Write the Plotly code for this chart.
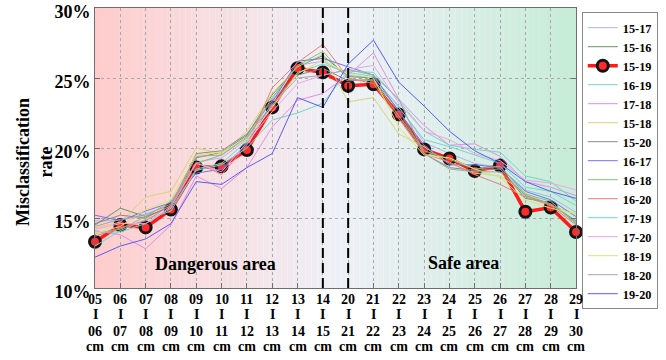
import plotly.graph_objects as go

# ---------------- data ----------------
range_lo = ["05", "06", "07", "08", "09", "10", "11", "12", "13", "14",
            "20", "21", "22", "23", "24", "25", "26", "27", "28", "29"]
range_hi = ["06", "07", "08", "09", "10", "11", "12", "13", "14", "15",
            "21", "22", "23", "24", "25", "26", "27", "28", "29", "30"]

s_15_17 = [14.8, 14.8, 15.3, 15.9, 19.0, 19.3, 20.6, 23.5, 25.9, 26.2, 25.2, 25.0, 23.0, 20.4, 19.6, 18.9, 18.6, 17.0, 16.5, 15.4]
s_15_16 = [14.5, 15.7, 15.1, 15.8, 19.3, 19.7, 20.9, 23.8, 25.8, 26.6, 25.1, 25.0, 22.2, 19.7, 19.2, 18.6, 18.5, 16.4, 16.1, 14.6]
s_15_19 = [13.3, 14.5, 14.33, 15.6, 18.6, 18.7, 19.85, 22.9, 25.7, 25.4, 24.45, 24.55, 22.4, 19.9, 19.25, 18.35, 18.75, 15.45, 15.75, 14.0]
s_16_19 = [13.0, 14.1, 14.9, 15.5, 18.5, 18.9, 20.5, 23.0, 25.4, 26.0, 25.4, 25.1, 22.9, 20.6, 20.1, 19.5, 18.9, 17.2, 16.9, 15.9]
s_17_18 = [14.1, 13.8, 12.8, 14.5, 18.0, 17.1, 18.6, 21.5, 23.4, 23.9, 25.2, 26.8, 23.5, 21.6, 20.2, 20.3, 19.4, 17.6, 17.2, 16.6]
s_15_18 = [14.3, 14.7, 16.5, 16.9, 20.0, 19.6, 21.2, 23.9, 25.8, 26.7, 23.3, 23.6, 21.0, 20.1, 18.9, 18.2, 18.0, 16.8, 15.9, 15.3]
s_15_20 = [14.6, 15.2, 15.0, 15.9, 19.6, 19.8, 21.0, 23.4, 25.2, 25.7, 24.8, 24.9, 22.7, 19.6, 18.6, 18.4, 18.5, 16.6, 16.0, 14.8]
s_16_17 = [15.2, 14.8, 15.5, 16.1, 18.2, 18.5, 20.3, 23.2, 26.2, 26.4, 25.8, 25.2, 22.6, 20.2, 18.8, 18.8, 18.6, 16.9, 16.3, 15.1]
s_16_18 = [13.9, 14.2, 15.1, 16.2, 18.9, 19.5, 20.7, 23.6, 25.9, 26.9, 24.9, 24.8, 22.3, 19.8, 19.2, 18.5, 18.7, 16.7, 16.2, 14.6]
s_16_20 = [13.7, 14.3, 14.8, 15.9, 19.0, 18.1, 20.2, 24.3, 26.1, 27.4, 25.0, 24.6, 22.1, 19.6, 19.0, 18.1, 17.4, 16.5, 15.9, 14.5]
s_17_19 = [14.0, 14.0, 14.6, 15.7, 18.4, 18.8, 20.0, 22.0, 22.5, 23.2, 25.5, 25.4, 23.4, 21.2, 20.2, 19.9, 19.7, 18.0, 17.6, 16.2]
s_17_20 = [14.2, 14.6, 14.6, 15.8, 18.9, 18.3, 20.4, 22.6, 24.6, 25.2, 25.6, 25.9, 23.2, 21.2, 20.6, 19.6, 19.1, 17.7, 17.5, 17.0]
s_18_19 = [13.9, 14.4, 15.6, 16.3, 19.5, 19.7, 20.6, 22.9, 25.3, 26.3, 25.3, 25.0, 21.5, 19.5, 19.3, 18.5, 17.9, 16.3, 15.7, 15.3]
s_18_20 = [14.4, 14.9, 15.2, 16.0, 19.4, 19.5, 20.8, 23.1, 25.0, 25.2, 25.6, 25.2, 23.5, 19.6, 18.5, 18.3, 18.3, 16.6, 16.0, 14.7]
s_19_20 = [12.2, 13.0, 13.5, 14.6, 17.6, 17.4, 18.6, 19.6, 23.6, 22.9, 26.0, 27.7, 24.7, 23.0, 21.2, 19.8, 18.9, 17.6, 16.9, 16.4]

series_names = ["15-17", "15-16", "15-19", "16-19", "17-18", "15-18", "15-20", "16-17",
                "16-18", "16-20", "17-19", "17-20", "18-19", "18-20", "19-20"]
series_values = [s_15_17, s_15_16, s_15_19, s_16_19, s_17_18, s_15_18, s_15_20, s_16_17,
                 s_16_18, s_16_20, s_17_19, s_17_20, s_18_19, s_18_20, s_19_20]
series_colors = ["#a9b4f0", "#5f9a63", "#ff1a1a", "#77d3d0", "#e58be8", "#d8d470", "#8a8a8a", "#6f74f2",
                 "#7cc47c", "#f07a7a", "#6fd8c4", "#e9a6e6", "#e6e26a", "#a6a6a6", "#5a5cf5"]
y_ticks = [10, 15, 20, 25, 30]
y_tick_text = ["10%", "15%", "20%", "25%", "30%"]
highlight = "15-19"

FONT = "Liberation Serif"
x_idx = list(range(len(range_lo)))

fig = go.Figure()

# ---------------- background gradient ----------------
def lerp(c1, c2, t):
    return tuple(round(a + (b - a) * t) for a, b in zip(c1, c2))

c_left, c_mid, c_right = (255, 204, 204), (238, 240, 247), (199, 236, 215)
n_strips = 80
x0_all, x1_all = 0, len(range_lo) - 1
for i in range(n_strips):
    t = (i + 0.5) / n_strips
    c = lerp(c_left, c_mid, t / 0.5) if t < 0.5 else lerp(c_mid, c_right, (t - 0.5) / 0.5)
    xa = x0_all + (x1_all - x0_all) * i / n_strips
    xb = x0_all + (x1_all - x0_all) * (i + 1) / n_strips
    fig.add_shape(type="rect", xref="x", yref="paper", x0=xa, x1=xb, y0=0, y1=1,
                  fillcolor="rgb(%d,%d,%d)" % c, line=dict(width=0), layer="below")

# ---------------- series ----------------
for name, vals, col in zip(series_names, series_values, series_colors):
    if name == highlight:
        fig.add_trace(go.Scatter(
            x=x_idx, y=vals, name=name, mode="lines+markers",
            line=dict(color=col, width=3.5),
            marker=dict(size=11, color="#ff2a2a", line=dict(color="#141414", width=3)),
            cliponaxis=False))
    else:
        fig.add_trace(go.Scatter(
            x=x_idx, y=vals, name=name, mode="lines",
            line=dict(color=col, width=1)))

# dashed separators between the two ranges
for k in (range_lo.index("14"), range_lo.index("20")):
    fig.add_shape(type="line", xref="x", yref="paper", x0=k, x1=k, y0=0, y1=1,
                  line=dict(color="black", width=2, dash="10px,5px"))

# ---------------- x tick labels (stacked, tight lines) ----------------
line_y = [-0.0393, -0.0964, -0.1536, -0.2107]
for xi, lo, hi in zip(x_idx, range_lo, range_hi):
    for txt, yy in zip([lo, "I", hi, "cm"], line_y):
        fig.add_annotation(x=xi, y=yy, xref="x", yref="paper", text="<b>%s</b>" % txt,
                           showarrow=False, xanchor="center", yanchor="middle", borderpad=0,
                           font=dict(family=FONT, size=14, color="black"))

# y-axis title (two lines, rotated)
fig.add_annotation(x=-0.127, y=0.45, xref="paper", yref="paper",
                   text="<b>Misclassification<br>rate</b>", textangle=-90,
                   showarrow=False, xanchor="center", yanchor="middle",
                   font=dict(family=FONT, size=18, color="black"))

# area labels
fig.add_annotation(x=4.76, y=11.7, xref="x", yref="y", text="<b>Dangerous area</b>",
                   showarrow=False, font=dict(family=FONT, size=18, color="black"))
fig.add_annotation(x=14.55, y=11.8, xref="x", yref="y", text="<b>Safe area</b>",
                   showarrow=False, font=dict(family=FONT, size=18, color="black"))

fig.update_layout(
    width=666, height=360,
    margin=dict(l=95, r=84, t=8, b=72),
    paper_bgcolor="white", plot_bgcolor="rgba(0,0,0,0)",
    font=dict(family=FONT, color="black"),
    showlegend=True,
    legend=dict(x=1.012, y=0.985, xanchor="left", yanchor="top",
                maxheight=330,
                bgcolor="white", bordercolor="#888888", borderwidth=1,
                font=dict(family=FONT, size=12.3, color="black", weight="bold"),
                itemwidth=30, tracegroupgap=0),
    xaxis=dict(range=[x0_all, x1_all], tickmode="array", tickvals=x_idx, showticklabels=False,
               showgrid=True, gridcolor="#a8a8a8", griddash="dot", gridwidth=1,
               showline=True, linecolor="#6e6e6e", linewidth=1, mirror=True,
               ticks="inside", ticklen=5, tickcolor="#6e6e6e", zeroline=False,
               automargin=False),
    yaxis=dict(range=[10, 30], tickmode="array", tickvals=y_ticks, ticktext=y_tick_text,
               showgrid=True, gridcolor="#a8a8a8", griddash="dot", gridwidth=1,
               showline=True, linecolor="#6e6e6e", linewidth=1, mirror="ticks",
               ticks="inside", ticklen=5, tickcolor="#6e6e6e", zeroline=False,
               tickfont=dict(family=FONT, size=18, color="black", weight="bold"),
               ticklabelshift=4, ticklabeloverflow="allow", automargin=False),
)

fig.write_html("out.html", config={"displayModeBar": False},
               post_script="document.body.style.margin='0px';")
